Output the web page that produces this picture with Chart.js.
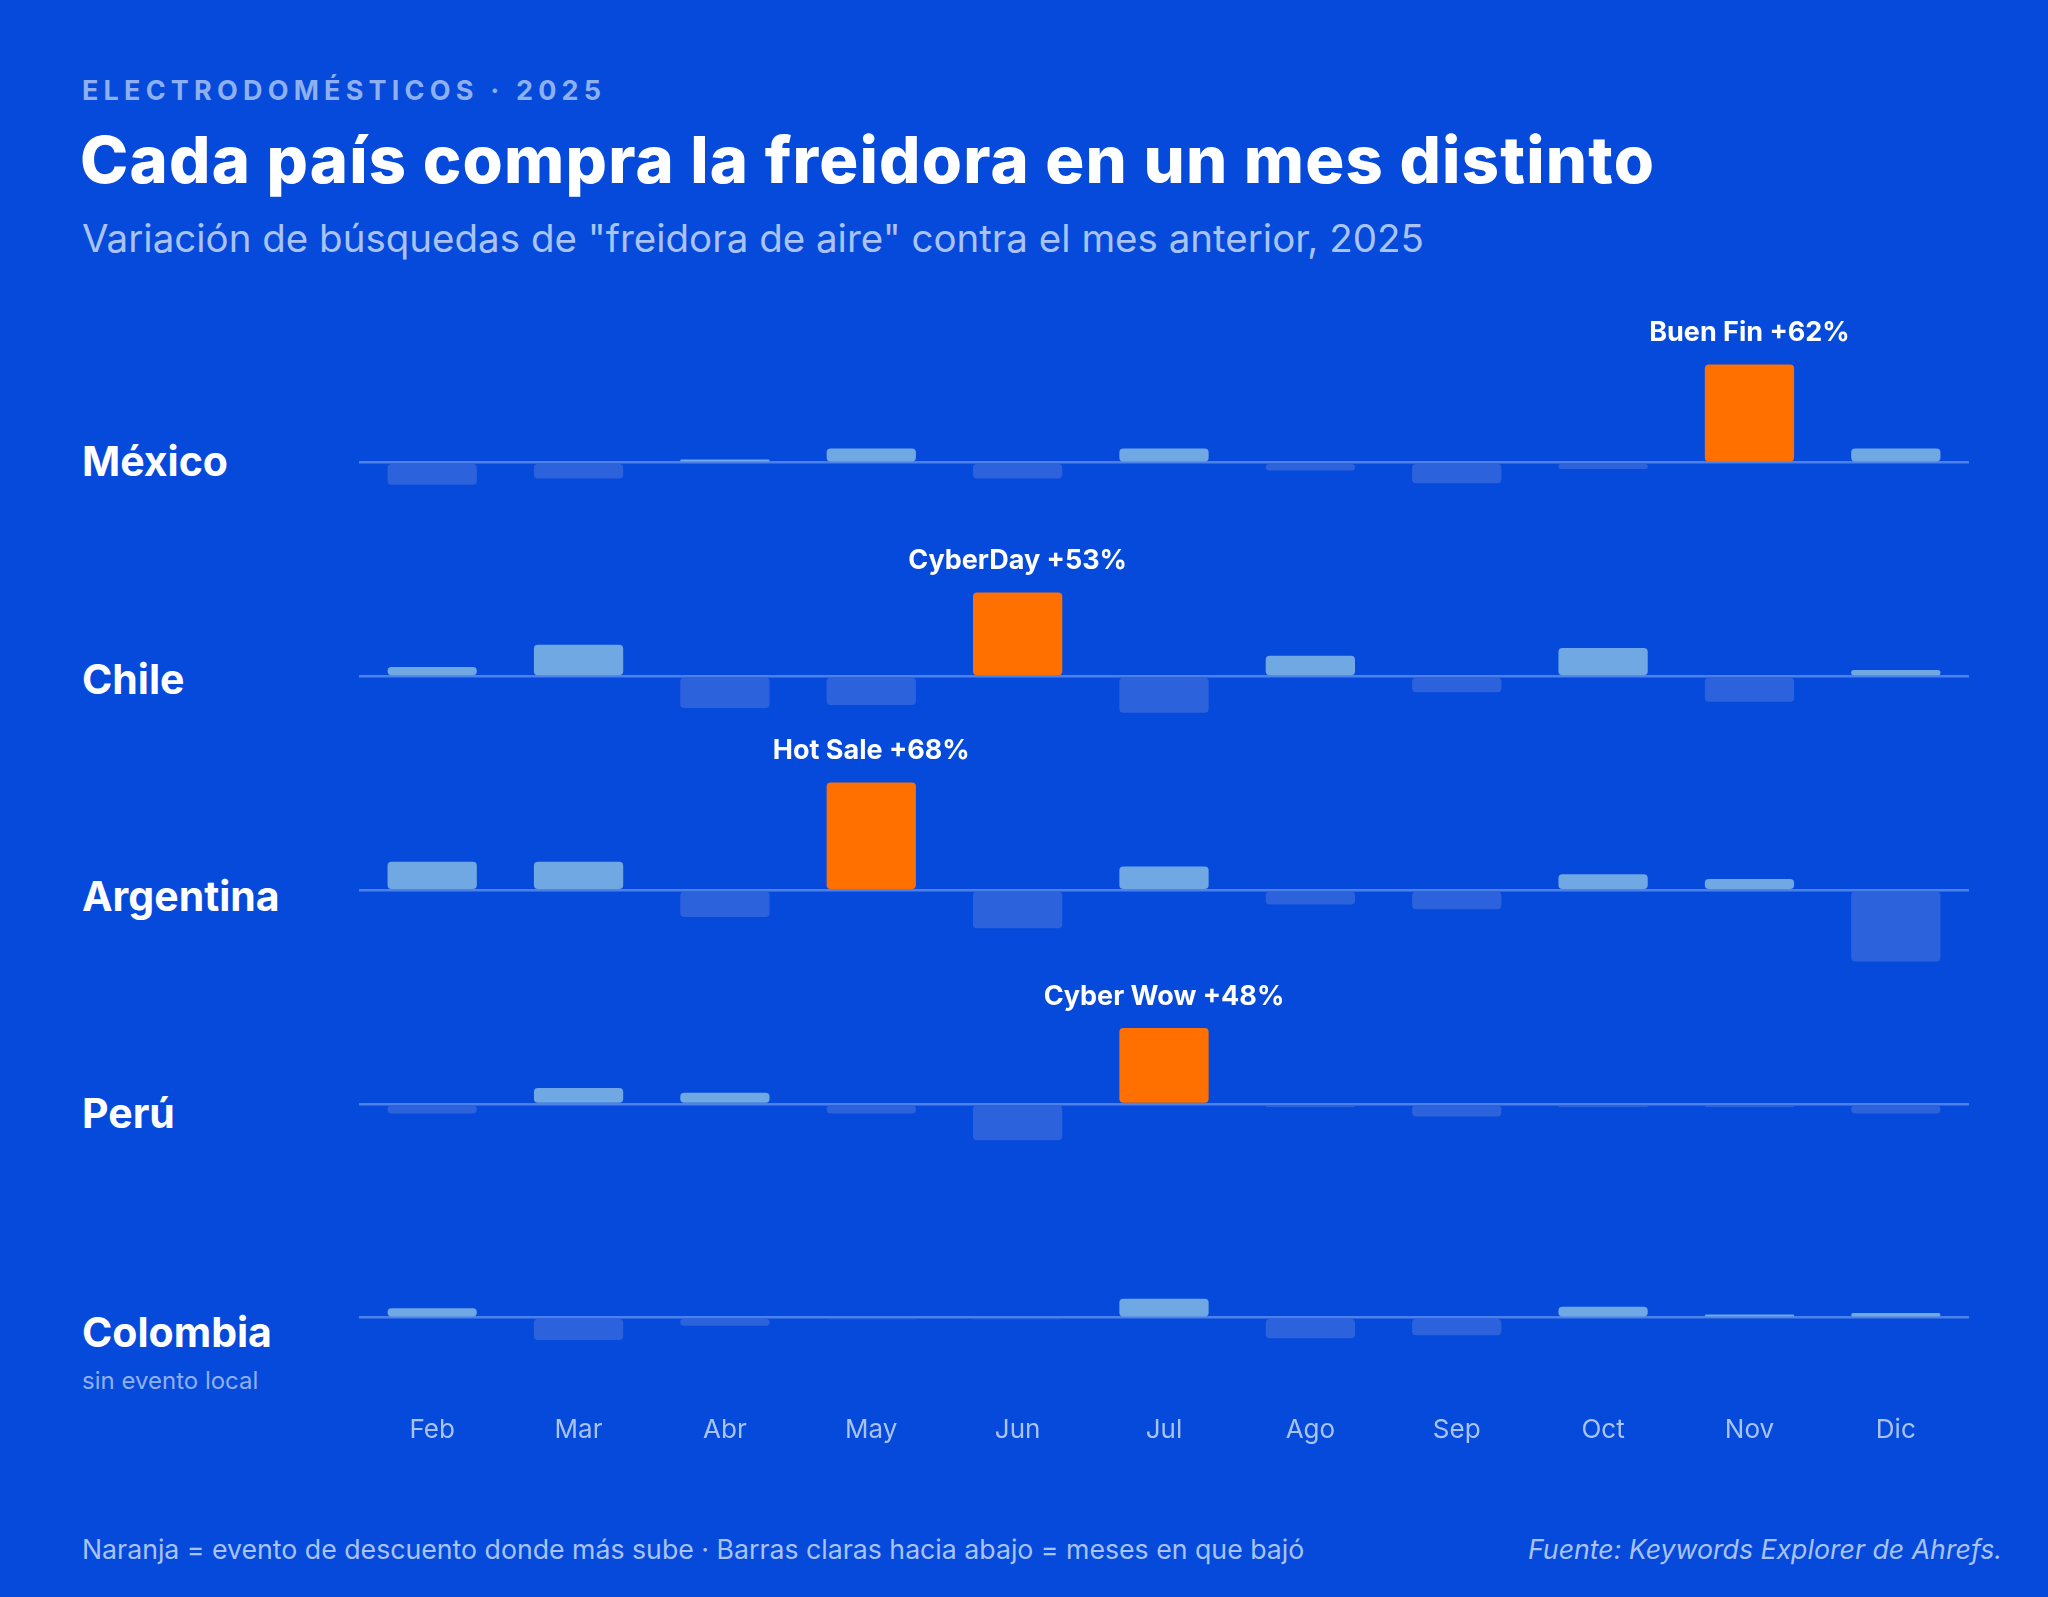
<!DOCTYPE html>
<html><head><meta charset="utf-8">
<script src="https://cdn.jsdelivr.net/npm/chart.js@4"></script>
<style>
  html,body{margin:0;padding:0;background:#064ADB;}
  body{width:2048px;height:1597px;position:relative;overflow:hidden;font-family:Inter,"Noto Sans",sans-serif;color:#fff;}
  .abs{position:absolute;white-space:nowrap;}
  #kicker{left:82px;top:74px;font-size:27px;font-weight:700;letter-spacing:5.2px;color:#8fb0f0;}
  #title{left:80px;top:120px;font-size:65px;font-weight:800;letter-spacing:1.2px;}
  #sub{left:82px;top:215px;font-size:38.5px;color:#a9c3f5;}
  .country{left:82px;font-size:41px;font-weight:700;transform:translateY(-50%);}
  #note{left:82px;top:1366px;font-size:24px;color:#8fb0f0;}
  #foot{left:82px;top:1533px;font-size:26.7px;color:#a9c3f5;}
  #src{right:46px;top:1533px;font-size:26.7px;color:#a9c3f5;font-style:italic;}
  #wrap{position:absolute;left:0;top:300px;width:2048px;height:1148px;}
</style></head>
<body>
<div class="abs" id="kicker">ELECTRODOMÉSTICOS · 2025</div>
<div class="abs" id="title">Cada país compra la freidora en un mes distinto</div>
<div class="abs" id="sub">Variación de búsquedas de "freidora de aire" contra el mes anterior, 2025</div>
<div id="labels"></div>
<div class="abs" id="note">sin evento local</div>
<div class="abs" id="foot">Naranja = evento de descuento donde más sube · Barras claras hacia abajo = meses en que bajó</div>
<div class="abs" id="src">Fuente: Keywords Explorer de Ahrefs.</div>
<div id="wrap"><canvas id="c"></canvas></div>
<script>
const months = ['Feb','Mar','Abr','May','Jun','Jul','Ago','Sep','Oct','Nov','Dic'];
const countries = ['México','Chile','Argentina','Perú','Colombia'];
const mexico    = [-14,-10,2,9,-10,9,-5,-13,-4,62,9];
const chile     = [6,20,-20,-18,53,-23,13,-10,18,-16,4];
const argentina = [18,18,-17,68,-24,15,-9,-12,10,7,-45];
const peru      = [-6,10,7,-6,-23,48,-2,-8,-2,-2,-6];
const colombia  = [6,-14,-5,-1,-1,12,-13,-11,7,2,3];
const eventNames = ['Buen Fin','CyberDay','Hot Sale','Cyber Wow',null];
const eventIndex = [9,4,3,5,null];
const series = [mexico, chile, argentina, peru, colombia];

const S = 2048/1568;
const rowY = [353,520,686,852,1020].map(v => v*S);
const labels = document.getElementById('labels');
countries.forEach((c,i)=>{
  const d = document.createElement('div');
  d.className='abs country'; d.textContent=c; d.style.top=rowY[i]+'px';
  labels.appendChild(d);
});

const scales = {
  x: {grid:{display:false},border:{display:false},
      ticks:{color:'#a9c3f5',font:{family:'Inter',size:26},padding:2}}
};
// stacked axes are laid out bottom-up, so add them in reverse
for(let i=series.length-1;i>=0;i--){
  scales['y'+i] = {
    type:'linear', position:'left', stack:'rows', stackWeight:1, offset:false,
    min:-55, max:80, display:true,
    border:{display:false},
    ticks:{display:false},
    grid:{drawTicks:false,lineWidth:2.5,color:ctx=>ctx.tick && ctx.tick.value===0 ? '#4c80ea' : 'rgba(0,0,0,0)'},
    afterBuildTicks:ax=>{ax.ticks=[{value:0}];}
  };
}

const datasets = series.map((s,i)=>({
  data:s, yAxisID:'y'+i, grouped:false,
  barPercentage:0.61, categoryPercentage:1,
  borderRadius:4, borderSkipped:false,
  backgroundColor:s.map((v,j)=> j===eventIndex[i] ? '#FF7000' : (v>=0 ? '#6fa8e2' : '#2c62dc'))
}));

const eventLabels = {
  id:'eventLabels',
  afterDatasetsDraw(chart){
    const ctx = chart.ctx;
    ctx.save();
    ctx.fillStyle='#fff';
    ctx.font='700 27px Inter';
    ctx.textAlign='center';
    ctx.textBaseline='bottom';
    eventNames.forEach((n,i)=>{
      if(!n) return;
      const el = chart.getDatasetMeta(i).data[eventIndex[i]];
      const v = series[i][eventIndex[i]];
      ctx.fillText(n+' +'+v+'%', el.x, el.y-18);
    });
    ctx.restore();
  }
};

new Chart(document.getElementById('c'),{
  type:'bar',
  data:{labels:months,datasets},
  options:{
    responsive:true, maintainAspectRatio:false, animation:false,
    layout:{padding:{left:359,right:79,top:36,bottom:0}},
    plugins:{legend:{display:false},tooltip:{enabled:false}},
    scales
  },
  plugins:[eventLabels]
});
</script>
</body></html>
